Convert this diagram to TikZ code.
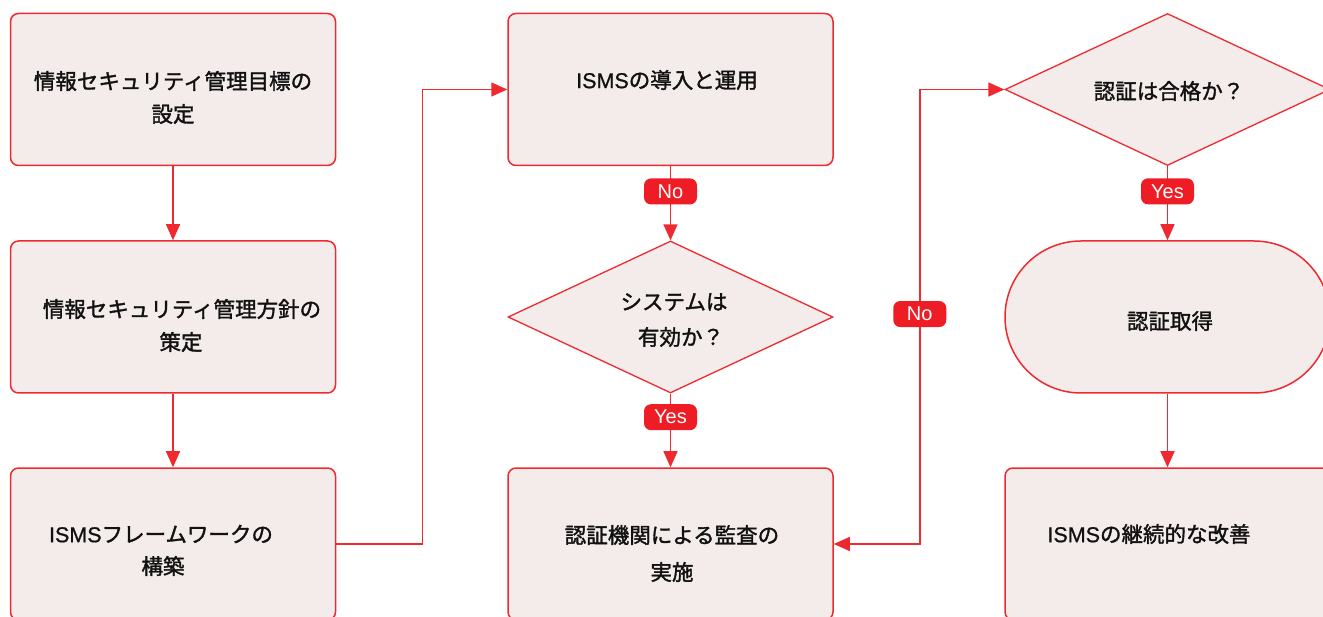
\documentclass[tikz,border=0pt]{standalone}
\usepackage{fontspec}
\setmainfont{Noto Sans CJK JP}[FakeBold=1.6]
\newfontfamily\lat{Liberation Sans}[FakeBold=0.8]
\newfontfamily\tagfont{Liberation Sans}
\usetikzlibrary{shapes.geometric,arrows.meta}
\definecolor{lnred}{HTML}{EE2A30}
\definecolor{tagred}{HTML}{EE1C25}
\definecolor{boxfill}{HTML}{F4ECEA}
\definecolor{txt}{HTML}{111111}
\tikzset{
  stepbox/.style={draw=lnred, line width=1.5pt, fill=boxfill, rounded corners=8pt,
    minimum width=325pt, minimum height=152pt, inner sep=0pt},
  decbox/.style={diamond, draw=lnred, line width=1.3pt, fill=boxfill,
    minimum width=325pt, minimum height=152pt, inner sep=0pt},
  termbox/.style={draw=lnred, line width=1.5pt, fill=boxfill, rounded corners=76pt,
    minimum width=325pt, minimum height=152pt, inner sep=0pt},
  words/.style={text=txt, font=\fontsize{21.5}{26}\selectfont, inner sep=0pt, anchor=center},
  tag/.style={fill=tagred, text=white, rounded corners=7pt, minimum width=53pt,
    minimum height=26pt, inner sep=0pt, font=\tagfont\fontsize{20}{22}\selectfont},
  arr/.style={draw=lnred, line width=1.5pt, -{Triangle[length=16pt,width=14pt]}},
}
\begin{document}
\begin{tikzpicture}[x=1pt,y=-1pt]
\useasboundingbox (0,0) rectangle (1323,617);
\clip (0,0) rectangle (1323,617);
% shapes
\node[stepbox] (b1) at (173,89.5) {};
\node[stepbox] (b2) at (173,317) {};
\node[stepbox] (b3) at (173,544) {};
\node[stepbox] (b4) at (670.5,89.5) {};
\node[decbox]  (d1) at (670.5,317) {};
\node[stepbox] (b5) at (670.5,544) {};
\node[decbox]  (d2) at (1167.5,89.5) {};
\node[termbox] (t1) at (1167.5,317) {};
\node[stepbox] (b6) at (1167.5,544) {};
% texts
\node[words] (w1a) at (173,81) {情報セキュリティ管理目標の};
\node[words] (w1b) at (173,114) {設定};
\node[words] (w2a) at (182,309) {情報セキュリティ管理方針の};
\node[words] (w2b) at (181,342) {策定};
\node[words] (w3a) at (161,534) {{\lat ISMS}フレームワークの};
\node[words] (w3b) at (163,566) {構築};
\node[words] (w4) at (667,80) {{\lat ISMS}の導入と運用};
\node[words] (w5a) at (674,302) {システムは};
\node[words] (w5b) at (681,337) {有効か？};
\node[words] (w6a) at (672,535) {認証機関による監査の};
\node[words] (w6b) at (672,572) {実施};
\node[words] (w7) at (1169,91) {認証は合格か？};
\node[words] (w8) at (1170,321) {認証取得};
\node[words] (w9) at (1149,534) {{\lat ISMS}の継続的な改善};
% connectors
\draw[arr] (b1.south) -- (b2.north);
\draw[arr] (b2.south) -- (b3.north);
\draw[arr] (b3.east) -- ++(86,0) |- (b4.west);
\draw[arr] (b4.south) -- (d1.north) node[tag, pos=0.34] (l1) {No};
\draw[arr] (d1.south) -- (b5.north) node[tag, pos=0.32] (l2) {Yes};
\draw[arr, {Triangle[length=16pt,width=14pt]}-{Triangle[length=16pt,width=14pt]}]
  (b5.east) -- ++(86,0) |- (d2.west) node[tag, pos=0.253] (l3) {No};
\draw[arr] (d2.south) -- (t1.north) node[tag, pos=0.34] (l4) {Yes};
\draw[arr] (t1.south) -- (b6.north);
\end{tikzpicture}
\end{document}
